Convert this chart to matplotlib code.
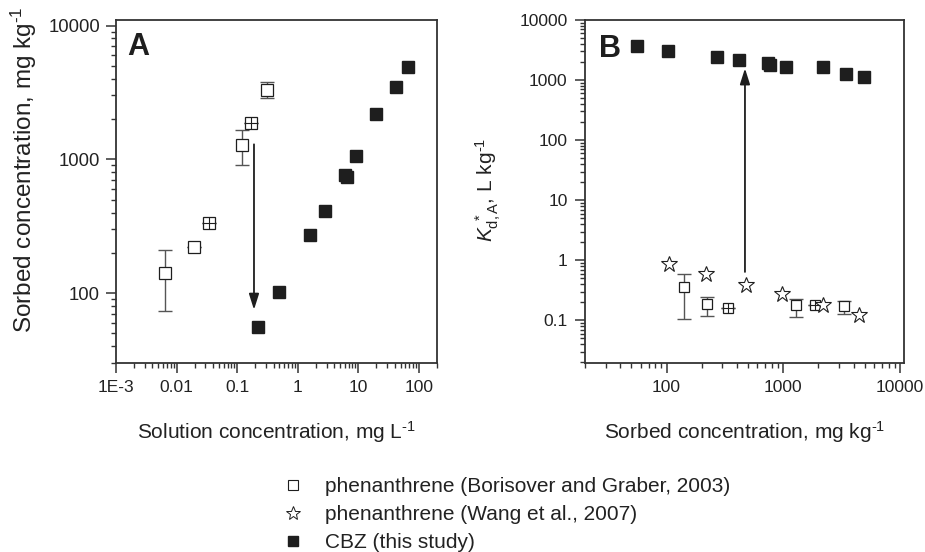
import numpy as np
import matplotlib
matplotlib.use("Agg")
import matplotlib.pyplot as plt
from matplotlib.ticker import FixedLocator, LogLocator, NullFormatter, FixedFormatter
from matplotlib.lines import Line2D

plt.rcParams['font.family'] = ['Liberation Sans', 'DejaVu Sans']
plt.rcParams['mathtext.fontset'] = 'custom'
plt.rcParams['mathtext.rm'] = 'Liberation Sans'
plt.rcParams['mathtext.it'] = 'Liberation Sans:italic'
plt.rcParams['mathtext.bf'] = 'Liberation Sans:bold'

# ---- phenanthrene (Borisover and Graber, 2003) ----
phen_bg_c = [0.0065, 0.0194, 0.0348, 0.12, 0.169, 0.315]        # solution conc., mg/L
phen_bg_q = [142, 221, 336, 1279, 1870, 3313]                     # sorbed conc., mg/kg
phen_bg_q_lo = [73, 221, 336, 907, 1870, 2873]
phen_bg_q_hi = [210, 221, 336, 1667, 1870, 3776]
phen_bg_kd = [0.359, 0.185, 0.160, 0.178, 0.178, 0.175]          # Kd*, L/kg
phen_bg_kd_lo = [0.107, 0.117, 0.160, 0.115, 0.178, 0.129]
phen_bg_kd_hi = [0.59, 0.245, 0.160, 0.23, 0.178, 0.21]
phen_bg_crossed = [False, False, True, False, True, False]

# ---- phenanthrene (Wang et al., 2007) ----
phen_w_q = [104, 216, 475, 979, 2198, 4470]
phen_w_kd = [0.857, 0.584, 0.394, 0.271, 0.178, 0.121]

# ---- CBZ (this study) ----
cbz_c = [0.22, 0.49, 1.6, 2.81, 5.96, 6.5, 9.3, 20, 41.8, 66]
cbz_q = [56, 102, 271, 414, 764, 734, 1055, 2185, 3450, 4860]
cbz_kd = [3735, 3080, 2450, 2150, 1778, 1944, 1668, 1626, 1259, 1135]

# arrows (start, end) in data units
arrow_a = ((0.19, 1294), (0.19, 75))
arrow_b = ((469, 0.64), (469, 1567))

labels_ax_a_x = ["1E-3", "0.01", "0.1", "1", "10", "100"]
labels_ax_a_y = ["100", "1000", "10000"]
labels_ax_b_x = ["100", "1000", "10000"]
labels_ax_b_y = ["0.1", "1", "10", "100", "1000", "10000"]

ink = '#1e1e1e'
spine_c = '#333333'
err_c = '#555555'
txt_c = '#222222'
fs_tick = 12.5
fs = 15
HY = '\u2010'  # typographic hyphen for the unit exponents

fig = plt.figure(figsize=(9.25, 5.52), dpi=100)
ax_a = fig.add_axes([116/925, 1-363/552, 321/925, 343/552])
ax_b = fig.add_axes([585/925, 1-363/552, 319/925, 343/552])


def style_axis(ax, xmaj, xlab, ymaj, ylab):
    ax.set_xscale('log')
    ax.set_yscale('log')
    for s in ax.spines.values():
        s.set_color(spine_c)
        s.set_linewidth(1.3)
    ax.xaxis.set_major_locator(FixedLocator(xmaj))
    ax.xaxis.set_major_formatter(FixedFormatter(xlab))
    ax.yaxis.set_major_locator(FixedLocator(ymaj))
    ax.yaxis.set_major_formatter(FixedFormatter(ylab))
    ax.xaxis.set_minor_locator(LogLocator(base=10, subs=np.arange(2, 10), numticks=20))
    ax.yaxis.set_minor_locator(LogLocator(base=10, subs=np.arange(2, 10), numticks=20))
    ax.xaxis.set_minor_formatter(NullFormatter())
    ax.yaxis.set_minor_formatter(NullFormatter())
    ax.tick_params(which='major', direction='out', length=7.5, width=1.1,
                   color=spine_c, labelsize=fs_tick, labelcolor=txt_c, pad=5,
                   top=False, right=False)
    ax.tick_params(which='minor', direction='out', length=3.8, width=1.0,
                   color=spine_c, top=False, right=False)


def draw_squares(ax, x, y, lo, hi, crossed, ms):
    x = np.asarray(x, float)
    y = np.asarray(y, float)
    yerr = np.vstack([y - np.asarray(lo, float), np.asarray(hi, float) - y])
    ax.errorbar(x, y, yerr=yerr, fmt='none', ecolor=err_c, elinewidth=1.0,
                capsize=5, capthick=1.0, zorder=2)
    ax.plot(x, y, 's', ms=ms, mfc='white', mec=ink, mew=0.9, ls='none', zorder=3)
    cx = x[np.asarray(crossed)]
    cy = y[np.asarray(crossed)]
    ax.plot(cx, cy, '+', ms=ms, mec=ink, mew=0.8, ls='none', zorder=4)


# ---------- panel A ----------
style_axis(ax_a, [1e-3, 1e-2, 1e-1, 1, 10, 100], labels_ax_a_x,
           [100, 1000, 10000], labels_ax_a_y)
ax_a.tick_params(axis='y', which='major', labelsize=13.3, pad=4)
ax_a.set_xlim(1e-3, 200)
ax_a.set_ylim(30, 11000)
draw_squares(ax_a, phen_bg_c, phen_bg_q, phen_bg_q_lo, phen_bg_q_hi, phen_bg_crossed, 8)
ax_a.plot(cbz_c, cbz_q, 's', ms=8.5, mfc=ink, mec=ink, ls='none', zorder=3)
ax_a.annotate('', xy=arrow_a[1], xytext=arrow_a[0],
              arrowprops=dict(arrowstyle='-|>,head_length=0.95,head_width=0.3',
                              mutation_scale=10, color=ink, lw=1.3,
                              shrinkA=0, shrinkB=0))
ax_a.text(0.035, 0.965, 'A', transform=ax_a.transAxes, fontsize=22,
          fontweight='bold', va='top', ha='left', color=ink)
ax_a.set_xlabel('Solution concentration, mg L$^{' + HY + '1}$', fontsize=fs, color=txt_c)
ax_a.xaxis.set_label_coords(0.5, -0.165)
fig.text(24/925, 1-170/552, 'Sorbed concentration, mg kg$^{' + HY + '1}$', rotation=90,
         fontsize=17.5, color=txt_c, ha='center', va='center')

# ---------- panel B ----------
style_axis(ax_b, [100, 1000, 10000], labels_ax_b_x,
           [0.1, 1, 10, 100, 1000, 10000], labels_ax_b_y)
ax_b.set_xlim(20, 10800)
ax_b.set_ylim(0.0195, 10000)
draw_squares(ax_b, phen_bg_q, phen_bg_kd, phen_bg_kd_lo, phen_bg_kd_hi, phen_bg_crossed, 7.5)
ax_b.plot(phen_w_q, phen_w_kd, '*', ms=12, mfc='white', mec=ink, mew=0.8,
          ls='none', zorder=3)
ax_b.plot(cbz_q, cbz_kd, 's', ms=8, mfc=ink, mec=ink, ls='none', zorder=3)
ax_b.annotate('', xy=arrow_b[1], xytext=arrow_b[0],
              arrowprops=dict(arrowstyle='-|>,head_length=0.95,head_width=0.3',
                              mutation_scale=10, color=ink, lw=1.3,
                              shrinkA=0, shrinkB=0))
ax_b.text(0.045, 0.96, 'B', transform=ax_b.transAxes, fontsize=22,
          fontweight='bold', va='top', ha='left', color=ink)
ax_b.set_xlabel('Sorbed concentration, mg kg$^{' + HY + '1}$', fontsize=fs, color=txt_c)
ax_b.xaxis.set_label_coords(0.5, -0.165)
fig.text(488/925, 1-190/552, r'$\mathit{K}_{\mathrm{d,A}}^{\ *}$, L kg$^{' + HY + '1}$',
         rotation=90, fontsize=fs, color=txt_c, ha='center', va='center')

# ---------- legend ----------
handles = [
    Line2D([], [], marker='s', ms=7, mfc='white', mec=ink, mew=0.8, ls='none'),
    Line2D([], [], marker='*', ms=10, mfc='white', mec=ink, mew=0.7, ls='none'),
    Line2D([], [], marker='s', ms=7, mfc=ink, mec=ink, ls='none'),
]
names = ['phenanthrene (Borisover and Graber, 2003)',
         'phenanthrene (Wang et al., 2007)',
         'CBZ (this study)']
fig.legend(handles, names, loc='upper left', bbox_to_anchor=(273/925, 1-467/552),
           frameon=False, fontsize=fs, handlelength=0.9, handletextpad=1.1,
           labelspacing=0.42, borderpad=0, labelcolor=txt_c)

fig.savefig('out.png', dpi=100)
